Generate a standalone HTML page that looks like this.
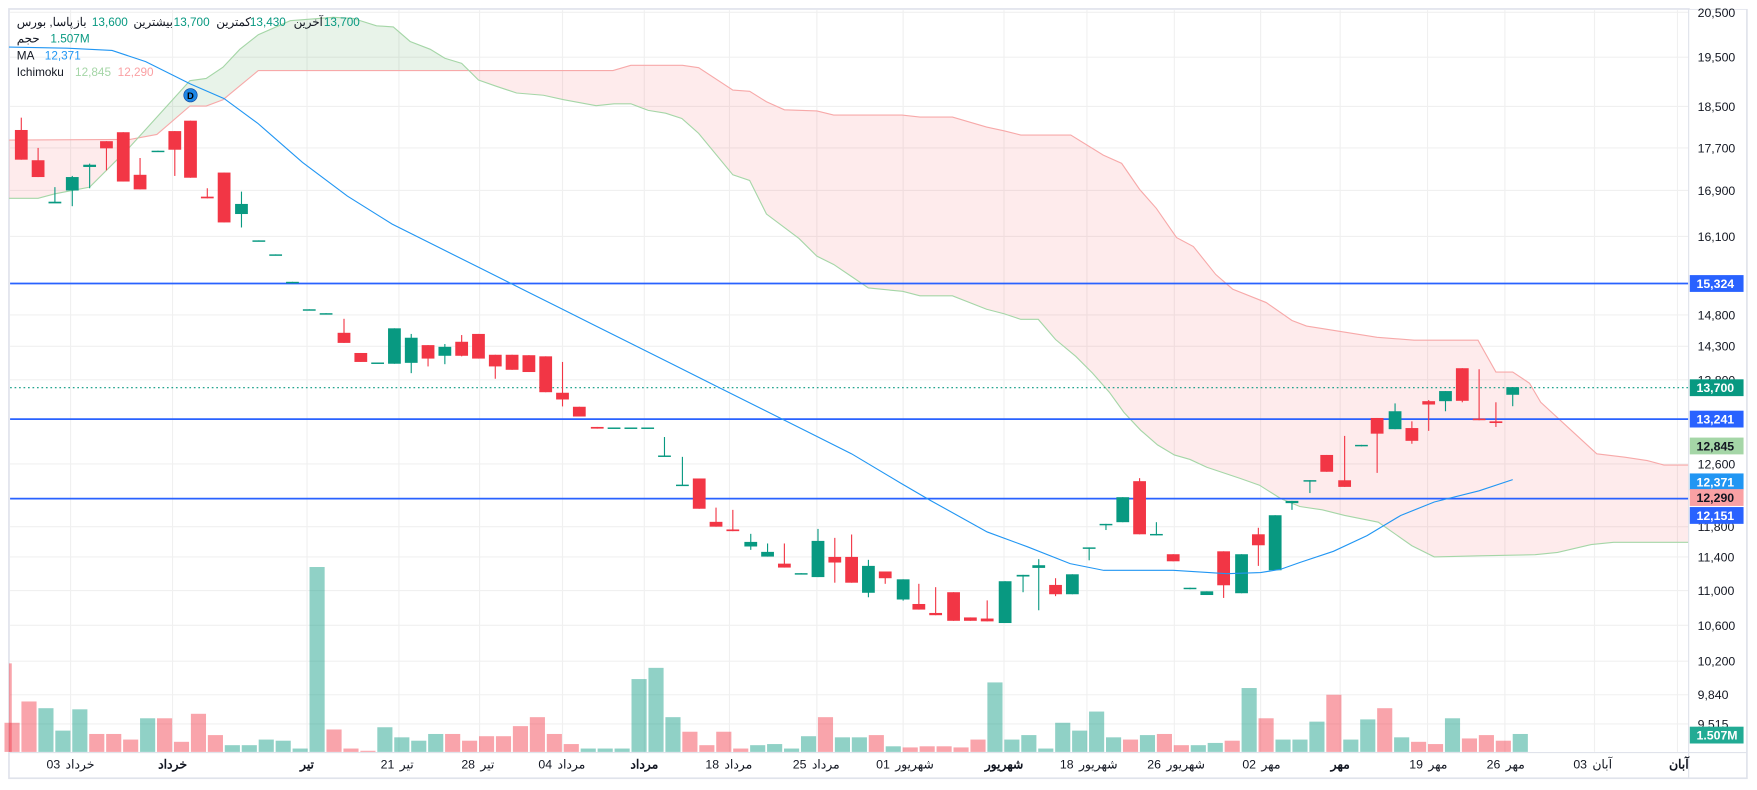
<!DOCTYPE html>
<html><head><meta charset="utf-8">
<style>
html,body{margin:0;padding:0;background:#fff;}
svg{display:block;}
text{font-family:"Liberation Sans","Noto Sans CJK SC",sans-serif;}
</style></head>
<body>
<svg id="s" width="1757" height="790" viewBox="0 0 1568 705" preserveAspectRatio="none" xmlns="http://www.w3.org/2000/svg">
<rect x="0" y="0" width="1568" height="705" fill="#fff"/>
<g id="grid"></g>
<g id="cloud"></g>
<g id="vol"></g>
<g id="hl"></g>
<g id="candles"></g>
<g id="ma"></g>
<g id="axis"></g>
<g id="legend"></g>
</svg>
<script>
const NS="http://www.w3.org/2000/svg";
function el(p,t,a,txt){const e=document.createElementNS(NS,t);for(const k in a)e.setAttribute(k,a[k]);if(txt!==undefined)e.textContent=txt;document.getElementById(p).appendChild(e);return e;}
el('grid','rect',{x:8,y:8,width:1551,height:686.5,fill:'none',stroke:'#e0e3eb','stroke-width':1.5});
const ticks=[[11,'20,500'],[51,'19,500'],[95,'18,500'],[132,'17,700'],[170,'16,900'],[211,'16,100'],[281,'14,800'],[309,'14,300'],[339,'13,800'],[414,'12,600'],[470,'11,800'],[497,'11,400'],[527,'11,000'],[558,'10,600'],[590,'10,200'],[620,'9,840'],[646,'9,515']];
ticks.forEach(t=>{el('grid','line',{x1:9,x2:1507,y1:t[0],y2:t[0],stroke:'#f0f0f0','stroke-width':1});});
const vx=[63,154,274,356,428,502,575,651,729,806,896,970,1048,1125,1196,1274,1343,1423,1497];
vx.forEach(x=>el('grid','line',{x1:x,x2:x,y1:9,y2:671,stroke:'#f0f0f0','stroke-width':1}));
const A=[[8,177],[34,177],[49,173],[80,167],[116,131],[169.5,72],[184,70],[199,60],[214,44],[230.5,31],[259,18.5],[297.5,15.5],[315,16.4],[336,23],[351,24],[366,37],[384,44],[397,52],[412,56.5],[427,71.4],[443,77],[461,83],[485,85],[503,89],[532,94.3],[548,92.6],[563,92.6],[578.5,98.5],[594,101],[608.5,105.7],[623.5,119],[654,156],[669,161],[684,191],[713,212.8],[729,228.6],[744,236],[759.4,246.4],[775,257],[805.5,260],[821,264],[850,264],[880.5,276],[896,280],[911,285],[926.6,285],[942,303],[960,318],[975,333],[990,350],[1003,368],[1018,384],[1033,397],[1048,406],[1062,410],[1077,417],[1107,427],[1124,433],[1143,445],[1160,452],[1180,455],[1200,460],[1230,466],[1260,487],[1280,497],[1320,496],[1370,495],[1390,493],[1420,486],[1440,484],[1470,484],[1507,484]];
const B=[[8,125],[116,124.4],[140,120],[169.5,94.6],[184,94.6],[199,89],[230.5,63],[547,63],[563,58.3],[609,58.3],[623.5,60.4],[654,80.4],[669,81.5],[684,90.8],[700,98],[729,99],[744,102.7],[805,102.7],[821,104.5],[850,104.5],[880.5,113.4],[896,116.7],[911,120.5],[955.6,120.5],[984.6,138.4],[1001,145.8],[1017,169],[1032,186],[1050,212],[1065,220],[1085,245],[1100,258],[1130,270],[1153,286],[1166,291],[1229,301],[1262,303.6],[1319,303.6],[1335,332],[1350,332],[1365,342],[1375,359],[1400,382],[1425,405],[1450,408],[1470,411],[1485,415],[1507,415]];
function interp(L,x){for(let i=0;i<L.length-1;i++){if(x>=L[i][0]&&x<=L[i+1][0]){const t=(x-L[i][0])/(L[i+1][0]-L[i][0]);return L[i][1]+t*(L[i+1][1]-L[i][1]);}}return L[L.length-1][1];}
function seg(x0,x1,col){const xs=[];for(let x=x0;x<=x1;x+=1)xs.push(x);let d='M'+xs.map(x=>x+','+interp(A,x)).join(' L')+' L'+xs.reverse().map(x=>x+','+interp(B,x)).join(' L')+'Z';el('cloud','path',{d:d,fill:col});}
seg(8,125,'rgba(242,54,69,0.10)');seg(125,420,'rgba(67,160,71,0.12)');seg(420,1507,'rgba(242,54,69,0.10)');
el('cloud','polyline',{points:B.map(p=>p.join(',')).join(' '),fill:'none',stroke:'#f7a9a9','stroke-width':1});
el('cloud','polyline',{points:A.map(p=>p.join(',')).join(' '),fill:'none',stroke:'#a5d6a7','stroke-width':1});
const vt=[645,626,632,652,633,655,655,660,641,641,662,637,656,665,665,660,661,668,506,651,668,670,649,658,661,655,655,661,657,657,648,640,655,664,668,668,668,606,596,640,653,665,653,668,665,664,668,657,640,658,658,656,666,667,666,666,667,660,609,660,656,668,645,652,635,658,660,656,655,665,665,663,661,614,641,660,660,644,620,660,642,632,658,662,664,641,659,656,661,655];
const vc='rrgggrrrgrrrrggggggrrrgggg rrrrrrrrggggggrrrrgggg rggrgrrrrrggg gggggrgrrggrgrgggrggrgrrgrrrg'.replace(/ /g,'');
const N=vt.length;
for(let i=0;i<N;i++){const x=11+i*((1357-11)/(N-1));const c=(vc[i]||'g')=='g'?'rgba(8,153,129,0.45)':'rgba(242,54,69,0.45)';el('vol','rect',{x:x-7,y:vt[i],width:13.5,height:671-vt[i],fill:c});}
el('vol','rect',{x:8,y:592,width:2.5,height:79,fill:'rgba(242,54,69,0.45)'});
[253,374,445].forEach(y=>el('hl','line',{x1:9,x2:1507,y1:y,y2:y,stroke:'#2962ff','stroke-width':1.6}));
el('hl','line',{x1:9,x2:1507,y1:346,y2:346,stroke:'#089981','stroke-width':1,'stroke-dasharray':'1.5,2.5'});
const C=[[19,116,142.5,105,142.5,'r'],[34,143,158,132,158,'r'],[49,180,181.5,167,181,'g'],[64.5,158,170,157,184,'g'],[80,147,149,146,168,'g'],[95,126,132.4,126,152,'r'],[110,118,162,118,162,'r'],[125,156,169,141,169,'r'],[141,134.5,135.5,134.5,135.5,'g'],[156,117,133.6,117,157,'r'],[170,107.7,158.6,107.7,158.6,'r'],[185,175.5,177,168,177,'r'],[200,154,198.5,154,198.5,'r'],[215.5,182,191,171,203,'g'],[231,214.5,215.5,214.5,215.5,'g'],[246,227,228,227,228,'g'],[261,251.5,252.5,251.5,252.5,'g'],[276,276,277,276,277,'g'],[291,279.5,280.5,279.5,280.5,'g'],[307,297,306,284.5,306,'r'],[322,315,323,315,323,'r'],[337,323.5,324.5,323.5,324.5,'g'],[352,293,324.6,293,324.6,'g'],[367,301.4,323.8,298,333,'g'],[382,308,320,308,327,'r'],[397,309.5,317.5,307,325,'g'],[412,305,317.5,299,318,'r'],[427,298,320,298,320,'r'],[442,316.6,327,316.6,338,'r'],[457,316.6,330,316.6,330,'r'],[472,317,332,317,332,'r'],[487,318,350,318,350,'r'],[502,350.5,356.5,323,362.7,'r'],[517,363,371.7,363,371.7,'r'],[533,381,382.5,381,382.5,'r'],[548,381.5,382.5,381.5,382.5,'g'],[563,381.5,382.5,381.5,382.5,'g'],[578,381.5,382.5,381.5,382.5,'g'],[593,406.5,407.5,390,407.5,'g'],[609,432.5,433.5,407.7,433.5,'g'],[624,427,454,427,454,'r'],[639,465.7,470,453,470,'r'],[654,472.5,474,455,474,'r'],[670,483.6,487.7,476.4,490.7,'g'],[685,492.5,496.7,485,496.7,'g'],[700,503,506.5,485,506.5,'r'],[715,511.5,512.5,511.5,512.5,'g'],[730,482.7,515,472,515,'g'],[745,497,502,480,520,'r'],[760,497,520,477,520,'r'],[775,505,529,499.6,533,'g'],[790,510,516,510,521,'r'],[806,517,535,517,536,'g'],[820,539,544,521,544,'r'],[835,547,549,524,549,'r'],[851,528.5,554,528.5,554,'r'],[866,551,554,551,554,'r'],[881,552,554.5,535.8,554.5,'r'],[897,518.7,556,518.7,556,'g'],[913,513,514.5,513,528.5,'g'],[927,504.4,506.8,499,544.6,'g'],[942,522,530.3,516,532,'r'],[957,512.5,530.3,512.5,530.3,'g'],[972,488.5,489.8,488.5,500,'g'],[987,467.5,468.8,467.5,473,'g'],[1002,443.7,466,443.7,466,'g'],[1017,429.4,476.8,426.7,476.8,'r'],[1032,476.5,477.8,466,477.8,'g'],[1047,494.6,500.9,494.6,500.9,'r'],[1062,524.5,525.8,524.5,525.8,'g'],[1077,527.7,531,527.7,531,'g'],[1092,492,522.3,492,533.6,'r'],[1108,494.6,529.4,494.6,529.4,'g'],[1123,476.8,486.6,471,505,'r'],[1138,459.8,508.9,459.8,508.9,'g'],[1153,447,449,447,455,'g'],[1169,428.5,429.8,428.5,440,'g'],[1184,406,421,406,421,'r'],[1200,428.6,434.5,389,434.5,'r'],[1215,397,398.3,397,398.3,'g'],[1229,373,387,373,422,'r'],[1245,367,383,360,383,'g'],[1260,382,393.4,376,396,'r'],[1275,358,361,357,384.5,'r'],[1290,349,358,349,367,'g'],[1305,328.6,357.7,328.6,359,'r'],[1320,373.5,375,329.5,375,'r'],[1335,376,377.5,359,381,'r'],[1350,345.5,352.3,345.5,362.5,'g']];
C.forEach(c=>{const col=c[5]=='g'?'#089981':'#f23645';el('candles','line',{x1:c[0],x2:c[0],y1:c[3],y2:c[4],stroke:col,'stroke-width':1});el('candles','rect',{x:c[0]-5.7,y:c[1],width:11.4,height:Math.max(1.3,c[2]-c[1]),fill:col});});
const M=[[8,42],[60,43],[100,45],[130,55],[170,75],[200,88],[230,110],[270,145],[310,175],[350,200],[390,220],[430,240],[470,260],[500,275],[530,290],[560,305],[600,325],[640,345],[680,365],[720,385],[760,405],[803.6,431],[830,446.4],[881,474.7],[917,488],[955,503],[985,509],[1047,509],[1095,512],[1125,511],[1143,508],[1160,502],[1190,492],[1220,478],[1250,460],[1280,448],[1320,438],[1350,428]];
el('ma','polyline',{points:M.map(p=>p.join(',')).join(' '),fill:'none',stroke:'#2196f3','stroke-width':1});
el('ma','circle',{cx:170,cy:85,r:6,fill:'#1e88e5',stroke:'#0d47a1','stroke-width':0.6});
el('ma','text',{x:170,y:88.5,'font-size':8.5,'text-anchor':'middle',fill:'#000','font-weight':'bold'},'D');
el('axis','line',{x1:1507,x2:1507,y1:8,y2:694,stroke:'#e0e3eb','stroke-width':1});
el('axis','line',{x1:8,x2:1559,y1:671.6,y2:671.6,stroke:'#e0e3eb','stroke-width':1});
el('axis','rect',{x:1508,y:0,width:60,height:8,fill:'#fff'});
ticks.forEach(t=>el('axis','text',{x:1515,y:t[0]+4,'font-size':11,fill:'#131722'},t[1]));
const pills=[[253,'15,324','#2962ff','#fff'],[346,'13,700','#089981','#fff'],[374,'13,241','#2962ff','#fff'],[398,'12,845','#a5d6a7','#131722'],[430,'12,371','#2196f3','#fff'],[444,'12,290','#faa1a4','#131722'],[460,'12,151','#2962ff','#fff'],[656,'1.507M','#22ab94','#fff']];
pills.forEach(p=>{el('axis','rect',{x:1508,y:p[0]-7.5,width:48,height:15,fill:p[2]});el('axis','text',{x:1514,y:p[0]+4,'font-size':11,fill:p[3],'font-weight':'bold'},p[1]);});
const tl=[[63,'03','خرداد'],[154,'','خرداد'],[274,'','تیر'],[356,'21','تیر'],[428,'28','تیر'],[502,'04','مرداد'],[575,'','مرداد'],[651,'18','مرداد'],[729,'25','مرداد'],[806,'01','شهریور'],[896,'','شهریور'],[970,'18','شهریور'],[1048,'26','شهریور'],[1125,'02','مهر'],[1196,'','مهر'],[1274,'19','مهر'],[1343,'26','مهر'],[1423,'03','آبان']];
tl.forEach(t=>{
 if(t[1]===''){el('axis','text',{x:t[0],y:686,'font-size':11,fill:'#131722','text-anchor':'middle','font-weight':'bold'},t[2]);}
 else{const w=t[2].length*5.2+17;const x0=t[0]-w/2;
  el('axis','text',{x:x0,y:686,'font-size':11,fill:'#131722'},t[1]);
  el('axis','text',{x:x0+17,y:686,'font-size':11,fill:'#131722'},t[2]);}
});
el('axis','text',{x:1507,y:686,'font-size':11,fill:'#131722','text-anchor':'end','font-weight':'bold'},'آبان');
const L=[[15,23,'پاسا, بورس','#131722'],[66,23,'باز','#131722'],[82,23,'13,600','#089981'],[119,23,'بیشترین','#131722'],[155,23,'13,700','#089981'],[193,23,'کمترین','#131722'],[223,23,'13,430','#089981'],[262,23,'آخرین','#131722'],[289,23,'13,700','#089981'],[15,38,'حجم','#131722'],[45,38,'1.507M','#089981'],[15,53,'MA','#131722'],[40,53,'12,371','#2196f3'],[15,68,'Ichimoku','#131722'],[67,68,'12,845','#a5d6a7'],[105,68,'12,290','#faa1a4']];
L.forEach(l=>el('legend','text',{x:l[0],y:l[1],'font-size':10.5,fill:l[3]},l[2]));
</script>
</body></html>
